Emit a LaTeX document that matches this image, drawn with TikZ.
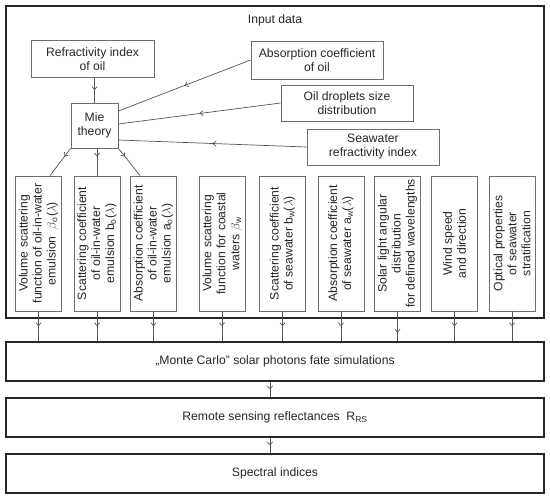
\documentclass[tikz,border=0pt]{standalone}
\usepackage{fontspec}
\setmainfont{Liberation Sans}
\usetikzlibrary{arrows.meta, positioning, calc, decorations.markings}
\definecolor{linegray}{RGB}{85,85,85}
\definecolor{boxgray}{RGB}{110,110,110}
\newcommand{\lowsub}[1]{\textsubscript{#1}}

\begin{document}
\begin{tikzpicture}[
    x=1pt, y=-1pt,
    every node/.style={font=\fontsize{12.2}{14}\selectfont, text=black!85},
    inbox/.style={draw=boxgray, line width=0.8pt, align=center, inner sep=1pt},
    colbox/.style={inbox, rotate=90, minimum width=135pt, minimum height=46pt},
    bigbox/.style={draw=black!85, line width=1.8pt, minimum width=538pt, minimum height=39pt},
    link/.style={draw=linegray, line width=0.7pt, postaction={decorate},
      decoration={markings, mark=at position #1 with {\arrow{Straight Barb[length=3pt, width=5pt]}}}},
    link/.default=0.5
]
  \useasboundingbox (0,0) rectangle (550,499);

  \node[bigbox, minimum height=312pt] (input) at (275,162) {};
  \node (title) at (275,20) {Input data};

  \node[inbox, minimum width=123pt, minimum height=37pt] (refoil) at (92.5,59) {Refractivity index\\of oil};
  \node[inbox, minimum width=132pt, minimum height=38pt] (absoil) at (317,60) {Absorption coefficient\\of oil};
  \node[inbox, minimum width=132pt, minimum height=36pt] (drops) at (347,103) {Oil droplets size\\distribution};
  \node[inbox, minimum width=132pt, minimum height=36pt] (searef) at (373,147) {Seawater\\refractivity index};
  \node[inbox, minimum width=47pt, minimum height=45pt] (mie) at (94.5,125.5) {Mie\\theory};

  \node[colbox] (col1) at (38.5,243.5) {Volume scattering\\function of oil-in-water\\emulsion\ \ \(\beta\)\lowsub{o}(\(\lambda\))};
  \node[colbox] (col2) at (97,243.5) {Scattering coefficient\\of oil-in-water\\emulsion b\lowsub{o}(\(\lambda\))};
  \node[colbox] (col3) at (153.5,243.5) {Absorption coefficient\\of oil-in-water\\emulsion a\lowsub{o}(\(\lambda\))};
  \node[colbox] (col4) at (222,243.5) {Volume scattering\\function for coastal\\waters \(\beta\)\lowsub{w}};
  \node[colbox] (col5) at (282.5,243.5) {Scattering coefficient\\of seawater b\lowsub{w}(\(\lambda\))};
  \node[colbox] (col6) at (341,243.5) {Absorption coefficient\\of seawater a\lowsub{w}(\(\lambda\))};
  \node[colbox] (col7) at (397.5,243.5) {Solar light angular\\distribution\\for defined wavelengths};
  \node[colbox] (col8) at (454.5,243.5) {Wind speed\\and direction};
  \node[colbox] (col9) at (512,243.5) {Optical properties\\of seawater\\stratification};

  \node[bigbox] (mc) at (275,361.5) {„Monte Carlo” solar photons fate simulations};
  \node[bigbox] (rrs) at (275,417.5) {Remote sensing reflectances\ \ R\lowsub{RS}};
  \node[bigbox] (spec) at (275,473.5) {Spectral indices};

  \draw[link] (refoil.south -| mie.north) -- (mie.north);
  \draw[link] (absoil.west) -- ([yshift=14.5pt]mie.east);
  \draw[link] (drops.west) -- ([yshift=1.5pt]mie.east);
  \draw[link] (searef.west) -- ([yshift=-14.5pt]mie.east);

  \draw[link=0.3] (mie.south west) -- ([xshift=11.5pt]col1.east);
  \draw[link=0.3] (mie.south -| col2.east) -- (col2.east);
  \draw[link=0.3] (mie.south east) -- ([xshift=-13.5pt]col3.east);

  \foreach \c in {1,...,6,8,9}
    \draw[link] (col\c.west) -- (col\c.west |- mc.north);
  \draw[link=0.72] (col7.west) -- (col7.west |- mc.north);

  \draw[link] ([xshift=-5pt]mc.south) -- ([xshift=-5pt]rrs.north);
  \draw[link] ([xshift=-5pt]rrs.south) -- ([xshift=-5pt]spec.north);
\end{tikzpicture}
\end{document}
